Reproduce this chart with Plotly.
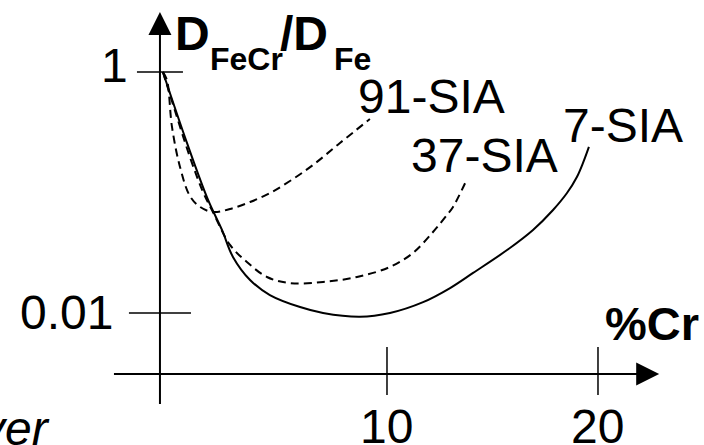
import math
import plotly.graph_objects as go

# Relative diffusivity D_FeCr/D_Fe versus Cr content for three SIA cluster sizes
cr_7 = [-0.62, 0.52, 1.52, 2.18, 2.70, 3.51, 4.45, 5.88, 6.97, 8.72, 10.14,
        11.71, 12.99, 14.08, 15.69, 16.92, 17.87, 18.53, 19.00, 19.29, 19.57]
d_7 = [1.0, 0.258, 0.0867, 0.0489, 0.0292, 0.0188, 0.0141, 0.0112, 0.0100,
       0.0093, 0.0100, 0.0123, 0.0161, 0.0215, 0.0333, 0.0489, 0.0716, 0.0990,
       0.1345, 0.176, 0.239]

cr_37 = [-0.62, -0.28, 0.66, 1.28, 1.75, 2.56, 3.36, 4.31, 5.40, 6.97, 8.58,
         10.14, 11.23, 12.18, 12.84, 13.13, 13.79]
d_37 = [1.0, 0.644, 0.197, 0.101, 0.0689, 0.0367, 0.0265, 0.0199, 0.0177,
        0.0181, 0.0199, 0.0241, 0.0315, 0.0470, 0.0650, 0.0759, 0.129]

cr_91 = [-0.62, -0.43, -0.19, 0.19, 0.66, 1.14, 1.75, 2.56, 3.51, 4.45, 5.40,
         6.49, 7.77, 9.19]
d_91 = [1.0, 0.859, 0.350, 0.163, 0.0935, 0.0759, 0.0689, 0.0729, 0.0834,
        0.0990, 0.1245, 0.169, 0.2575, 0.407]

series_names = ["7-SIA", "37-SIA", "91-SIA"]

x_tick_vals = [10, 20]
x_tick_text = ["10", "20"]
y_tick_vals = [1, 0.01]
y_tick_text = ["1", "0.01"]

W, H = 704, 445
FONT = "Liberation Sans, Arial, sans-serif"

# axis geometry (data units)
x_range = [-8.341, 25.024]
y_range_log = [-3.0954, 0.5975]
y_axis_x = -0.76          # where the vertical axis crosses
x_axis_y = 10 ** -2.506   # where the horizontal axis crosses
y_axis_bottom = 10 ** -2.755
y_axis_top = 10 ** 0.498
x_axis_left = -2.94
x_axis_right = 22.9


def paper_x(p):
    return p / W


def paper_y(p):
    return 1 - p / H


fig = go.Figure()

# axis lines
fig.add_trace(go.Scatter(x=[y_axis_x, y_axis_x], y=[y_axis_bottom, y_axis_top * 0.8],
                         mode="lines", line=dict(color="black", width=2),
                         hoverinfo="skip"))
fig.add_trace(go.Scatter(x=[x_axis_left, x_axis_right - 0.6], y=[x_axis_y, x_axis_y],
                         mode="lines", line=dict(color="black", width=1.8),
                         hoverinfo="skip"))

# tick marks
ytick_half = {1: (-1.85, 0.33), 0.01: (-2.23, 0.71)}
for v in y_tick_vals:
    a, b = ytick_half[v]
    fig.add_trace(go.Scatter(x=[a, b], y=[v, v], mode="lines",
                             line=dict(color="black", width=1.5), hoverinfo="skip"))
for v in x_tick_vals:
    fig.add_trace(go.Scatter(x=[v, v], y=[10 ** -2.282, 10 ** -2.68], mode="lines",
                             line=dict(color="black", width=1.5), hoverinfo="skip"))

# curves
fig.add_trace(go.Scatter(x=cr_7, y=d_7, mode="lines", name=series_names[0],
                         line=dict(color="black", width=2, shape="spline", smoothing=1)))
fig.add_trace(go.Scatter(x=cr_37, y=d_37, mode="lines", name=series_names[1],
                         line=dict(color="black", width=2, dash="8px,5px",
                                   shape="spline", smoothing=1)))
fig.add_trace(go.Scatter(x=cr_91, y=d_91, mode="lines", name=series_names[2],
                         line=dict(color="black", width=2, dash="8px,5px",
                                   shape="spline", smoothing=1)))

ann = []
# arrow heads on the axes
ann.append(dict(x=y_axis_x, y=math.log10(y_axis_top), xref="x", yref="y",
                ax=0, ay=20, text="", showarrow=True, arrowhead=2,
                arrowsize=2.3, arrowwidth=2, arrowcolor="black"))
ann.append(dict(x=x_axis_right, y=math.log10(x_axis_y), xref="x", yref="y",
                ax=-20, ay=0, text="", showarrow=True, arrowhead=2,
                arrowsize=2.3, arrowwidth=2, arrowcolor="black"))

# tick labels
for v, t in zip(x_tick_vals, x_tick_text):
    ann.append(dict(x=v, y=-2.944, xref="x", yref="y", text=t, showarrow=False,
                    xanchor="center", yanchor="middle",
                    font=dict(family=FONT, size=48, color="black")))
ylab_pos = {1: (127.6, 65.4), 0.01: (113, 312.4)}
for v, t in zip(y_tick_vals, y_tick_text):
    xp, yp = ylab_pos[v]
    ann.append(dict(x=paper_x(xp), y=paper_y(yp), xref="paper", yref="paper",
                    text=t, showarrow=False, xanchor="right", yanchor="middle",
                    font=dict(family=FONT, size=48, color="black")))

# series labels
lab_pos = {"91-SIA": (358, 96.4), "37-SIA": (411, 155.4), "7-SIA": (563, 125.4)}
for name in series_names:
    xp, yp = lab_pos[name]
    ann.append(dict(x=paper_x(xp), y=paper_y(yp), xref="paper", yref="paper",
                    text=name, showarrow=False, xanchor="left", yanchor="middle",
                    font=dict(family=FONT, size=48, color="black")))

# axis titles
title_parts = [("D", 174.5, 33, 48), ("FeCr", 209.6, 58.9, 32),
               ("/D", 280, 33, 48), ("Fe", 333.5, 58.9, 32)]
for t, xp, yp, s in title_parts:
    ann.append(dict(x=paper_x(xp), y=paper_y(yp), xref="paper", yref="paper",
                    text="<b>%s</b>" % t, showarrow=False, xanchor="left",
                    yanchor="middle", font=dict(family=FONT, size=s, color="black")))
ann.append(dict(x=paper_x(605), y=paper_y(323.7), xref="paper", yref="paper",
                text="<b>%Cr</b>", showarrow=False, xanchor="left", yanchor="middle",
                font=dict(family=FONT, size=47, color="black")))
ann.append(dict(x=paper_x(50), y=paper_y(428), xref="paper", yref="paper",
                text="<i>ver</i>", showarrow=False, xanchor="right", yanchor="middle",
                font=dict(family=FONT, size=48, color="black")))

for a in ann:
    a["borderpad"] = 0
    a["borderwidth"] = 0

fig.update_layout(
    width=W, height=H, autosize=False,
    margin=dict(l=0, r=0, t=0, b=0, pad=0),
    paper_bgcolor="white", plot_bgcolor="white",
    showlegend=False,
    xaxis=dict(range=x_range, visible=False, fixedrange=True),
    yaxis=dict(type="log", range=y_range_log, visible=False, fixedrange=True),
    annotations=ann,
)

fig.write_html("out.html", config={"displayModeBar": False})
